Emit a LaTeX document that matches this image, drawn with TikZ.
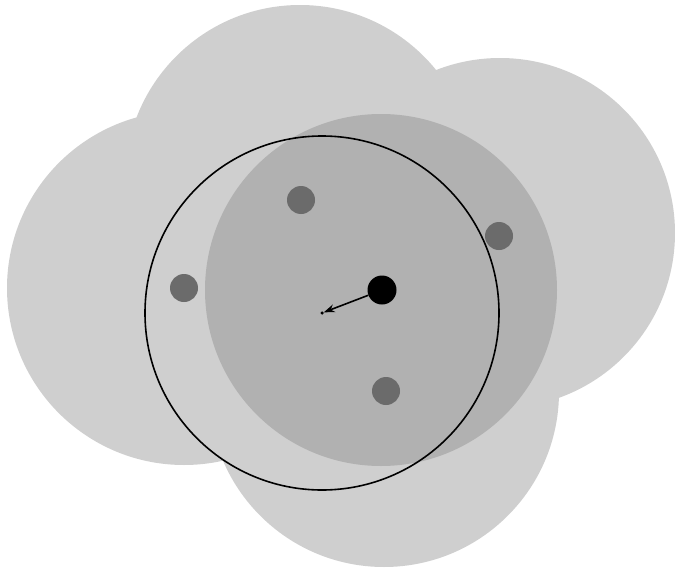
\documentclass[tikz,border=0pt]{standalone}
\usetikzlibrary{arrows.meta}
\definecolor{lightcloud}{HTML}{CFCFCF}
\definecolor{darkdisk}{HTML}{B1B1B1}
\definecolor{dotgrey}{HTML}{6B6B6B}
\tikzset{
  cloudfill/.style={fill=lightcloud, draw=none},
  diskfill/.style={fill=darkdisk, draw=none},
  sample/.style={circle, fill=dotgrey, draw=none, minimum size=28pt, inner sep=0pt},
  centredot/.style={circle, fill=black, draw=none, minimum size=29pt, inner sep=0pt},
  tinydot/.style={circle, fill=black, draw=none, minimum size=3.5pt, inner sep=0pt},
  ring/.style={draw=black, line width=1.6pt, fill=none},
  shiftarrow/.style={draw=black, line width=1.6pt, -{Stealth[length=11pt,width=8pt]}}
}
\begin{document}
\begin{tikzpicture}[x=1pt,y=-1pt]
\useasboundingbox (0,0) rectangle (675,570);
% light union of circles
\fill[cloudfill] (184,288) circle (177);
\fill[cloudfill] (300,180) circle (175);
\fill[cloudfill] (500,233) circle (175);
\fill[cloudfill] (384,392) circle (175);
% darker disk around the centre
\fill[diskfill] (381,290) circle (176);
% outline circle
\draw[ring] (322,313) circle (177);
% sample points
\node[sample] (s1) at (301,200) {};
\node[sample] (s2) at (499,236) {};
\node[sample] (s3) at (184,288) {};
\node[sample] (s4) at (386,391) {};
% centre and shift
\node[centredot] (c) at (382,290) {};
\node[tinydot] (m) at (322,313) {};
\draw[shiftarrow] (c) -- (m);
\end{tikzpicture}
\end{document}
